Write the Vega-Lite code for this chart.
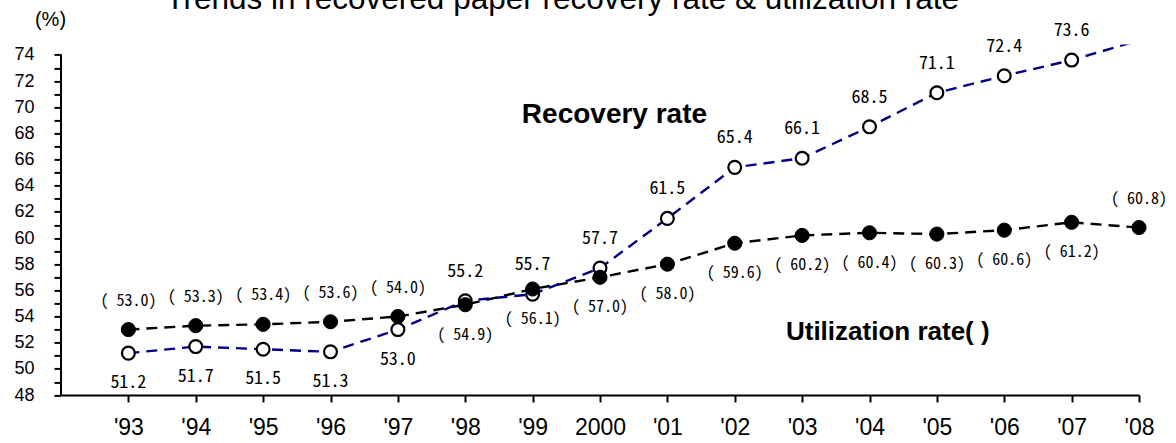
{
  "$schema": "https://vega.github.io/schema/vega-lite/v6.json",
  "autosize": {"type": "none"},
  "width": 1078,
  "height": 350.6,
  "padding": {"left": 61, "top": 44.4, "right": 37, "bottom": 48},
  "background": "white",
  "config": {"view": {"stroke": null}},
  "data": {
    "values": [
      {"year": 1993, "rate": "Recovery", "value": 51.2, "label": "51.2"},
      {"year": 1994, "rate": "Recovery", "value": 51.7, "label": "51.7"},
      {"year": 1995, "rate": "Recovery", "value": 51.5, "label": "51.5"},
      {"year": 1996, "rate": "Recovery", "value": 51.3, "label": "51.3"},
      {"year": 1997, "rate": "Recovery", "value": 53.0, "label": "53.0"},
      {"year": 1998, "rate": "Recovery", "value": 55.2, "label": "55.2"},
      {"year": 1999, "rate": "Recovery", "value": 55.7, "label": "55.7"},
      {"year": 2000, "rate": "Recovery", "value": 57.7, "label": "57.7"},
      {"year": 2001, "rate": "Recovery", "value": 61.5, "label": "61.5"},
      {"year": 2002, "rate": "Recovery", "value": 65.4, "label": "65.4"},
      {"year": 2003, "rate": "Recovery", "value": 66.1, "label": "66.1"},
      {"year": 2004, "rate": "Recovery", "value": 68.5, "label": "68.5"},
      {"year": 2005, "rate": "Recovery", "value": 71.1, "label": "71.1"},
      {"year": 2006, "rate": "Recovery", "value": 72.4, "label": "72.4"},
      {"year": 2007, "rate": "Recovery", "value": 73.6, "label": "73.6"},
      {"year": 2008, "rate": "Recovery", "value": 75.1, "label": "75.1"},
      {"year": 1993, "rate": "Utilization", "value": 53.0, "label": "( 53.0)"},
      {"year": 1994, "rate": "Utilization", "value": 53.3, "label": "( 53.3)"},
      {"year": 1995, "rate": "Utilization", "value": 53.4, "label": "( 53.4)"},
      {"year": 1996, "rate": "Utilization", "value": 53.6, "label": "( 53.6)"},
      {"year": 1997, "rate": "Utilization", "value": 54.0, "label": "( 54.0)"},
      {"year": 1998, "rate": "Utilization", "value": 54.9, "label": "( 54.9)"},
      {"year": 1999, "rate": "Utilization", "value": 56.1, "label": "( 56.1)"},
      {"year": 2000, "rate": "Utilization", "value": 57.0, "label": "( 57.0)"},
      {"year": 2001, "rate": "Utilization", "value": 58.0, "label": "( 58.0)"},
      {"year": 2002, "rate": "Utilization", "value": 59.6, "label": "( 59.6)"},
      {"year": 2003, "rate": "Utilization", "value": 60.2, "label": "( 60.2)"},
      {"year": 2004, "rate": "Utilization", "value": 60.4, "label": "( 60.4)"},
      {"year": 2005, "rate": "Utilization", "value": 60.3, "label": "( 60.3)"},
      {"year": 2006, "rate": "Utilization", "value": 60.6, "label": "( 60.6)"},
      {"year": 2007, "rate": "Utilization", "value": 61.2, "label": "( 61.2)"},
      {"year": 2008, "rate": "Utilization", "value": 60.8, "label": "( 60.8)"}
    ]
  },
  "encoding": {
    "x": {
      "field": "year",
      "type": "quantitative",
      "scale": {"domain": [1992, 2008], "nice": false, "zero": false},
      "axis": {
        "title": null,
        "grid": false,
        "values": [1993, 1994, 1995, 1996, 1997, 1998, 1999, 2000, 2001, 2002, 2003, 2004, 2005, 2006, 2007, 2008],
        "labelExpr": "datum.value == 2000 ? '2000' : \"'\" + format(datum.value % 100, '02d')",
        "labelFont": "Liberation Sans",
        "labelFontSize": 23,
        "labelColor": "black",
        "labelPadding": 14,
        "labelFlush": false,
        "labelOverlap": false,
        "domainColor": "black",
        "domainWidth": 2,
        "tickColor": "black",
        "tickWidth": 2,
        "tickSize": 7
      }
    },
    "y": {
      "field": "value",
      "type": "quantitative",
      "scale": {"domain": [48, 74.8], "nice": false, "zero": false},
      "axis": {
        "title": "(%)",
        "titleAngle": 0,
        "titleX": -11,
        "titleY": -25,
        "titleAlign": "center",
        "titleBaseline": "middle",
        "titleFont": "Liberation Sans",
        "titleFontSize": 20,
        "titleFontWeight": "normal",
        "titleColor": "black",
        "grid": false,
        "domain": false,
        "values": [48, 49, 50, 51, 52, 53, 54, 55, 56, 57, 58, 59, 60, 61, 62, 63, 64, 65, 66, 67, 68, 69, 70, 71, 72, 73, 74],
        "labelExpr": "datum.value % 2 == 0 ? datum.label : ''",
        "labelFont": "Liberation Sans",
        "labelFontSize": 18,
        "labelColor": "black",
        "labelPadding": 20,
        "labelOverlap": false,
        "labelFlush": false,
        "tickColor": "black",
        "tickWidth": 2,
        "tickSize": 7
      }
    }
  },
  "layer": [
    {
      "transform": [{"filter": "datum.year == 1993 && datum.rate == 'Recovery'"}],
      "mark": {"type": "text", "text": "Trends in recovered paper recovery rate & utilization rate", "font": "Liberation Sans", "fontSize": 31.5, "color": "black", "align": "center", "baseline": "alphabetic"},
      "encoding": {"x": {"datum": 1999.44}, "y": {"datum": 77.5}}
    },
    {
      "transform": [{"filter": "datum.year == 1993 && datum.rate == 'Recovery'"}],
      "mark": {"type": "rule", "color": "black", "strokeWidth": 2},
      "encoding": {"x": {"datum": 1992}, "y": {"datum": 48}, "y2": {"datum": 74}}
    },
    {
      "transform": [{"filter": "datum.rate == 'Utilization'"}],
      "mark": {"type": "line", "color": "black", "strokeWidth": 2.4, "strokeDash": [11, 7], "clip": true}
    },
    {
      "transform": [{"filter": "datum.rate == 'Recovery'"}],
      "mark": {"type": "line", "color": "#000080", "strokeWidth": 2.4, "strokeDash": [11, 7], "clip": true}
    },
    {
      "transform": [{"filter": "datum.rate == 'Recovery' && datum.value <= 74.8"}],
      "mark": {"type": "point", "shape": "circle", "filled": true, "fill": "white", "stroke": "black", "strokeWidth": 2.2, "size": 165, "opacity": 1}
    },
    {
      "transform": [{"filter": "datum.rate == 'Utilization'"}],
      "mark": {"type": "point", "shape": "circle", "filled": true, "fill": "black", "stroke": "black", "strokeWidth": 1, "size": 200, "opacity": 1}
    },
    {
      "transform": [{"filter": "datum.rate == 'Recovery' && datum.year <= 1997"}],
      "mark": {"type": "text", "font": "Noto Sans Mono CJK JP, Noto Sans CJK JP", "fontSize": 18, "color": "black", "baseline": "middle", "align": "center", "dy": 30},
      "encoding": {"text": {"field": "label"}}
    },
    {
      "transform": [{"filter": "datum.rate == 'Recovery' && datum.year >= 1998 && datum.value <= 74.8"}],
      "mark": {"type": "text", "font": "Noto Sans Mono CJK JP, Noto Sans CJK JP", "fontSize": 18, "color": "black", "baseline": "middle", "align": "center", "dy": -29},
      "encoding": {"text": {"field": "label"}}
    },
    {
      "transform": [{"filter": "datum.rate == 'Utilization' && (datum.year <= 1997 || datum.year == 2008)"}],
      "mark": {"type": "text", "font": "Noto Sans Mono CJK JP, Noto Sans CJK JP", "fontSize": 16, "color": "black", "baseline": "middle", "align": "center", "dy": -29},
      "encoding": {"text": {"field": "label"}}
    },
    {
      "transform": [{"filter": "datum.rate == 'Utilization' && datum.year >= 1998 && datum.year <= 2007"}],
      "mark": {"type": "text", "font": "Noto Sans Mono CJK JP, Noto Sans CJK JP", "fontSize": 16, "color": "black", "baseline": "middle", "align": "center", "dy": 30},
      "encoding": {"text": {"field": "label"}}
    },
    {
      "transform": [{"filter": "datum.year == 1993 && datum.rate == 'Recovery'"}],
      "mark": {"type": "text", "text": "Recovery rate", "font": "Liberation Sans", "fontSize": 28, "fontWeight": "bold", "color": "black", "align": "left", "baseline": "alphabetic"},
      "encoding": {"x": {"datum": 1998.84}, "y": {"datum": 68.8}}
    },
    {
      "transform": [{"filter": "datum.year == 1993 && datum.rate == 'Recovery'"}],
      "mark": {"type": "text", "text": "Utilization rate( )", "font": "Liberation Sans", "fontSize": 26, "fontWeight": "bold", "color": "black", "align": "left", "baseline": "alphabetic"},
      "encoding": {"x": {"datum": 2002.76}, "y": {"datum": 52.2}}
    }
  ]
}
